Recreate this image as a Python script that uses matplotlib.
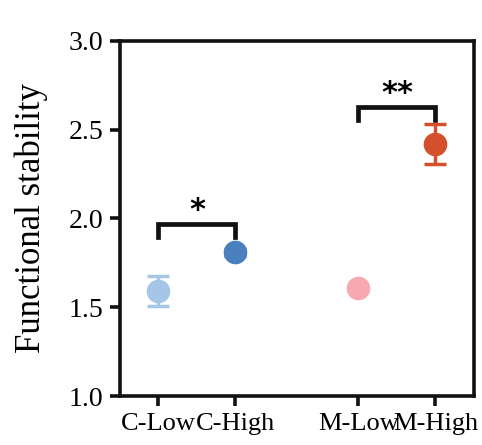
import matplotlib.pyplot as plt

groups = ['C-Low', 'C-High', 'M-Low', 'M-High']
xpos = [1, 2, 3.6, 4.6]
means = [1.59, 1.81, 1.61, 2.42]
errs = [0.085, 0.02, 0.01, 0.115]
colors = ['#a6c6e8', '#4a7fc0', '#f6a9b1', '#d4502c']

# significance brackets: (left idx, right idx, top y, leg bottom y, label)
brackets = [(0, 1, 1.97, 1.895, '*'), (2, 3, 2.63, 2.555, '**')]

plt.rcParams['font.family'] = ['Liberation Serif', 'DejaVu Serif']

fig = plt.figure(figsize=(4.82, 4.45), dpi=100)
ax = fig.add_axes([0.249, 0.110, 0.734, 0.798])

for x, m, e, c in zip(xpos, means, errs, colors):
    ax.errorbar(x, m, yerr=e, fmt='o', color=c, ms=16, elinewidth=2.5,
                capsize=8, capthick=2.5, zorder=3)

for i, j, top, low, lab in brackets:
    ax.plot([xpos[i], xpos[i], xpos[j], xpos[j]], [low, top, top, low],
            color='#111111', lw=3.4, solid_joinstyle='miter', zorder=2)
    ax.text((xpos[i] + xpos[j]) / 2, top - 0.005, lab, ha='center', va='bottom',
            fontsize=22, fontweight='bold', family='DejaVu Sans')

ax.set_xlim(0.5, 5.1)
ax.set_ylim(1.0, 3.0)
ax.set_yticks([1.0, 1.5, 2.0, 2.5, 3.0])
ax.set_yticklabels(['1.0', '1.5', '2.0', '2.5', '3.0'])
ax.set_xticks(xpos)
ax.set_xticklabels(groups)
ax.set_ylabel('Functional stability', fontsize=25, labelpad=15)

for s in ax.spines.values():
    s.set_linewidth(2.6)
    s.set_color('#111111')
ax.tick_params(axis='both', width=2.6, length=7, labelsize=20, color='#111111')
ax.tick_params(axis='x', labelsize=19, pad=5)
ax.tick_params(axis='y', pad=5)

fig.savefig('out.png', dpi=100)
